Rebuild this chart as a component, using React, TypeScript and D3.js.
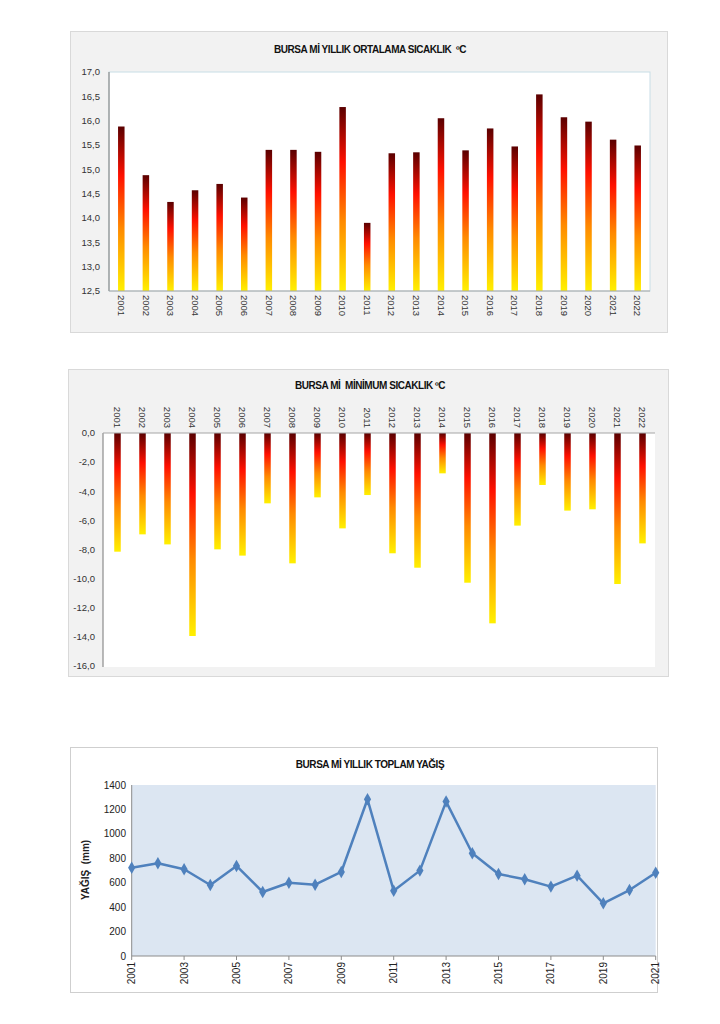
import React from 'react';
import * as d3 from 'd3';

const tempYears = ['2001','2002','2003','2004','2005','2006','2007','2008','2009','2010','2011','2012','2013','2014','2015','2016','2017','2018','2019','2020','2021','2022'];
const meanTemp = [15.88, 14.88, 14.33, 14.57, 14.70, 14.42, 15.40, 15.40, 15.36, 16.28, 13.90, 15.33, 15.35, 16.05, 15.39, 15.84, 15.47, 16.54, 16.07, 15.98, 15.61, 15.49];
const minTemp = [-8.15, -6.96, -7.65, -13.94, -7.99, -8.42, -4.83, -8.95, -4.42, -6.55, -4.26, -8.26, -9.25, -2.77, -10.28, -13.07, -6.36, -3.57, -5.33, -5.24, -10.37, -7.58];
const rainYears = ['2001','2002','2003','2004','2005','2006','2007','2008','2009','2010','2011','2012','2013','2014','2015','2016','2017','2018','2019','2020','2021'];
const rain = [723, 759, 710, 581, 737, 524, 600, 584, 688, 1283, 535, 699, 1264, 841, 671, 628, 568, 658, 431, 540, 682];
const rainLabelYears = ['2001','2003','2005','2007','2009','2011','2013','2015','2017','2019','2021'];
const meanTicks = [12.5, 13, 13.5, 14, 14.5, 15, 15.5, 16, 16.5, 17];
const minTicks = [0, -2, -4, -6, -8, -10, -12, -14, -16];
const rainTicks = [0, 200, 400, 600, 800, 1000, 1200, 1400];

const fmt = (v: number) => (Math.abs(v) < 1e-9 ? 0 : v).toFixed(1).replace('.', ',');
const FONT = "'Liberation Sans', Arial, Helvetica, sans-serif";
const NB = '\u00a0';

export default function App() {
  const x1 = d3.scaleBand<string>().domain(tempYears).range([109, 650]);
  const y1 = d3.scaleLinear().domain([12.5, 17]).range([291, 72]);
  const x2 = d3.scaleBand<string>().domain(tempYears).range([105, 655]);
  const y2 = d3.scaleLinear().domain([0, -16]).range([433, 666]);
  const x3 = d3.scalePoint<string>().domain(rainYears).range([131.7, 655.7]);
  const y3 = d3.scaleLinear().domain([0, 1400]).range([956, 785]);
  const line = d3.line<number>().x((_, i) => x3(rainYears[i])!).y(d => y3(d));
  const diamond = d3.symbol().type(d3.symbolDiamond).size(45)();
  const bw = 6.5;

  return (
    <svg width={720} height={1024} style={{ position: 'absolute', left: 0, top: 0, fontFamily: FONT }}>
      <defs>
        <linearGradient id="heat" x1="0" y1="0" x2="0" y2="1">
          <stop offset="0" stopColor="#5a0000" />
          <stop offset="0.3" stopColor="#ff1000" />
          <stop offset="0.62" stopColor="#ff8a00" />
          <stop offset="1" stopColor="#fff000" />
        </linearGradient>
      </defs>
      <rect x={0} y={0} width={720} height={1024} fill="#ffffff" />

      {/* Chart 1 */}
      <rect x={70.5} y={31.5} width={597} height={301} fill="#f2f2f2" stroke="#d9d9d9" />
      <text x={370} y={53} textAnchor="middle" fontSize={10} fontWeight="bold" letterSpacing={-0.45} fill="#111">{`BURSA Mİ YILLIK ORTALAMA SICAKLIK${NB}${NB}ºC`}</text>
      <rect x={109} y={72} width={541} height={219} fill="#ffffff" stroke="#c8dde6" strokeWidth={1} />
      {meanTemp.map((v, i) => {
        const cx = x1(tempYears[i])! + x1.bandwidth() / 2;
        return <rect key={i} x={cx - bw / 2} y={y1(v)} width={bw} height={y1(12.5) - y1(v)} fill="url(#heat)" />;
      })}
      <line x1={109} x2={109} y1={72} y2={291} stroke="#8c8c8c" strokeWidth={1.2} />
      <line x1={109} x2={650} y1={291} y2={291} stroke="#a6a6a6" strokeWidth={1.2} />
      {meanTicks.map(t => (
        <text key={t} x={100} y={y1(t)} dy="0.35em" textAnchor="end" fontSize={9.5} fill="#333">{fmt(t)}</text>
      ))}
      {tempYears.map(yr => {
        const cx = x1(yr)! + x1.bandwidth() / 2;
        return <text key={yr} transform={`translate(${cx},295) rotate(90)`} dy="0.35em" textAnchor="start" fontSize={9.5} fill="#333">{yr}</text>;
      })}

      {/* Chart 2 */}
      <rect x={68.5} y={369.5} width={600} height={307} fill="#f2f2f2" stroke="#d9d9d9" />
      <text x={370} y={389} textAnchor="middle" fontSize={10} fontWeight="bold" letterSpacing={-0.45} fill="#111">{`BURSA Mİ${NB}${NB}MİNİMUM SICAKLIK${NB}ºC`}</text>
      <rect x={103} y={433} width={552} height={234} fill="#ffffff" />
      {minTemp.map((v, i) => {
        const cx = x2(tempYears[i])! + x2.bandwidth() / 2;
        return <rect key={i} x={cx - bw / 2} y={y2(0)} width={bw} height={y2(v) - y2(0)} fill="url(#heat)" />;
      })}
      <line x1={103} x2={103} y1={433} y2={667} stroke="#8c8c8c" strokeWidth={1.2} />
      <line x1={103} x2={655} y1={433} y2={433} stroke="#a6a6a6" strokeWidth={1.2} />
      {minTicks.map(t => (
        <text key={t} x={95} y={y2(t)} dy="0.35em" textAnchor="end" fontSize={9.5} fill="#333">{fmt(t)}</text>
      ))}
      {tempYears.map(yr => {
        const cx = x2(yr)! + x2.bandwidth() / 2;
        return <text key={yr} transform={`translate(${cx},428) rotate(90)`} dy="0.35em" textAnchor="end" fontSize={9.5} fill="#333">{yr}</text>;
      })}

      {/* Chart 3 */}
      <rect x={70.5} y={747.5} width={587} height={245} fill="#ffffff" stroke="#cfcfcf" />
      <text x={370} y={768} textAnchor="middle" fontSize={10} fontWeight="bold" letterSpacing={-0.45} fill="#111">BURSA Mİ YILLIK TOPLAM YAĞIŞ</text>
      <rect x={131.7} y={785} width={524} height={171} fill="#dce6f2" />
      <line x1={131.7} x2={131.7} y1={785} y2={956} stroke="#8c8c8c" strokeWidth={1} />
      <line x1={131.7} x2={655.7} y1={956} y2={956} stroke="#8c8c8c" strokeWidth={1} />
      {rainTicks.map(t => (
        <text key={t} x={126} y={y3(t)} dy="0.35em" textAnchor="end" fontSize={10} fill="#222">{t}</text>
      ))}
      {rainLabelYears.map(yr => (
        <g key={yr}>
          <line x1={x3(yr)} x2={x3(yr)} y1={956} y2={960} stroke="#8c8c8c" />
          <text transform={`translate(${x3(yr)},962) rotate(-90)`} dy="0.35em" textAnchor="end" fontSize={10} fill="#222">{yr}</text>
        </g>
      ))}
      <text transform="translate(89,870) rotate(-90)" textAnchor="middle" fontSize={10} fontWeight="bold" fill="#222">{`YAĞIŞ${NB}${NB}(mm)`}</text>
      <path d={line(rain)!} fill="none" stroke="#4f81bd" strokeWidth={2.5} strokeLinejoin="round" />
      {rain.map((v, i) => (
        <path key={i} d={diamond!} transform={`translate(${x3(rainYears[i])},${y3(v)})`} fill="#4f81bd" />
      ))}
    </svg>
  );
}
